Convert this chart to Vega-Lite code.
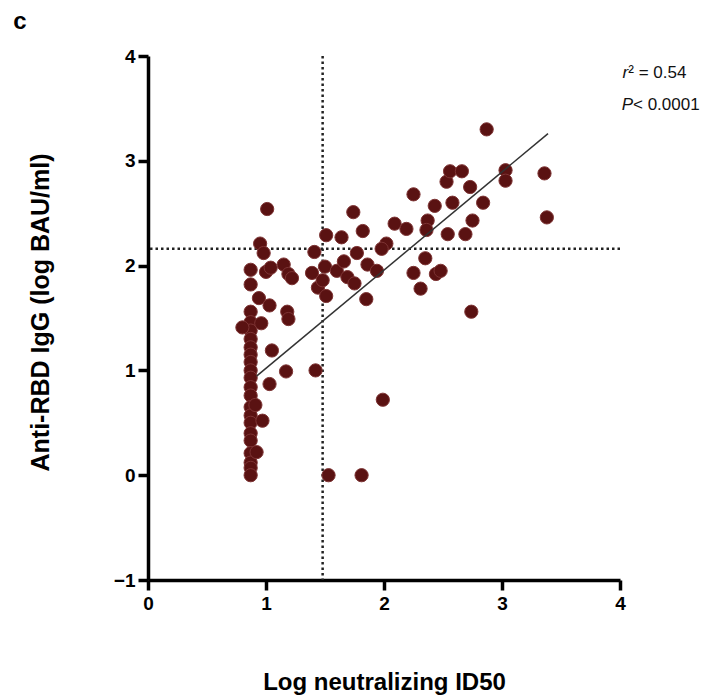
{
  "$schema": "https://vega.github.io/schema/vega-lite/v6.json",
  "width": 472,
  "height": 524,
  "autosize": {"type": "none"},
  "padding": {"left": 148, "top": 56, "right": 91, "bottom": 119},
  "background": "white",
  "config": {"view": {"stroke": null}},
  "data": {"values": [{}]},
  "datasets": {
    "pts": [
      {"id50": 0.87, "igg": 1.96}, {"id50": 0.87, "igg": 1.82}, {"id50": 0.87, "igg": 1.56}, {"id50": 0.87, "igg": 1.46},
      {"id50": 0.87, "igg": 1.38}, {"id50": 0.87, "igg": 1.30}, {"id50": 0.87, "igg": 1.22}, {"id50": 0.87, "igg": 1.15},
      {"id50": 0.87, "igg": 1.08}, {"id50": 0.87, "igg": 1.00}, {"id50": 0.87, "igg": 0.93}, {"id50": 0.87, "igg": 0.84},
      {"id50": 0.87, "igg": 0.76}, {"id50": 0.87, "igg": 0.65}, {"id50": 0.87, "igg": 0.57}, {"id50": 0.87, "igg": 0.50},
      {"id50": 0.87, "igg": 0.40}, {"id50": 0.87, "igg": 0.33}, {"id50": 0.87, "igg": 0.21}, {"id50": 0.87, "igg": 0.12},
      {"id50": 0.87, "igg": 0.07}, {"id50": 0.87, "igg": 0.0},
      {"id50": 0.80, "igg": 1.41}, {"id50": 0.96, "igg": 1.45}, {"id50": 0.91, "igg": 0.67}, {"id50": 0.97, "igg": 0.52},
      {"id50": 0.92, "igg": 0.22}, {"id50": 0.94, "igg": 1.69}, {"id50": 1.03, "igg": 1.62}, {"id50": 1.18, "igg": 1.56},
      {"id50": 1.19, "igg": 1.49}, {"id50": 1.05, "igg": 1.19}, {"id50": 1.17, "igg": 0.99}, {"id50": 1.42, "igg": 1.00},
      {"id50": 1.03, "igg": 0.87}, {"id50": 1.01, "igg": 2.54}, {"id50": 0.95, "igg": 2.21}, {"id50": 0.98, "igg": 2.12},
      {"id50": 1.00, "igg": 1.94}, {"id50": 1.04, "igg": 1.98}, {"id50": 1.15, "igg": 2.01}, {"id50": 1.19, "igg": 1.92},
      {"id50": 1.22, "igg": 1.88}, {"id50": 1.39, "igg": 1.93}, {"id50": 1.41, "igg": 2.13}, {"id50": 1.51, "igg": 2.29},
      {"id50": 1.64, "igg": 2.27}, {"id50": 1.50, "igg": 1.99}, {"id50": 1.60, "igg": 1.95}, {"id50": 1.44, "igg": 1.79},
      {"id50": 1.48, "igg": 1.86}, {"id50": 1.51, "igg": 1.71}, {"id50": 1.66, "igg": 2.04}, {"id50": 1.69, "igg": 1.89},
      {"id50": 1.75, "igg": 1.83}, {"id50": 1.77, "igg": 2.12}, {"id50": 1.74, "igg": 2.51}, {"id50": 1.82, "igg": 2.33},
      {"id50": 1.85, "igg": 1.68}, {"id50": 1.86, "igg": 2.01}, {"id50": 1.94, "igg": 1.95}, {"id50": 2.02, "igg": 2.21},
      {"id50": 1.98, "igg": 2.16}, {"id50": 2.09, "igg": 2.40}, {"id50": 2.19, "igg": 2.35}, {"id50": 2.25, "igg": 2.68},
      {"id50": 2.25, "igg": 1.93}, {"id50": 2.31, "igg": 1.78}, {"id50": 2.35, "igg": 2.07}, {"id50": 2.37, "igg": 2.43},
      {"id50": 2.36, "igg": 2.34}, {"id50": 2.43, "igg": 2.57}, {"id50": 2.44, "igg": 1.92}, {"id50": 2.48, "igg": 1.95},
      {"id50": 2.53, "igg": 2.80}, {"id50": 2.56, "igg": 2.90}, {"id50": 2.66, "igg": 2.90}, {"id50": 2.54, "igg": 2.30},
      {"id50": 2.69, "igg": 2.30}, {"id50": 2.58, "igg": 2.60}, {"id50": 2.73, "igg": 2.75}, {"id50": 2.75, "igg": 2.43},
      {"id50": 2.84, "igg": 2.60}, {"id50": 2.87, "igg": 3.30}, {"id50": 3.03, "igg": 2.91}, {"id50": 3.03, "igg": 2.81},
      {"id50": 3.36, "igg": 2.88}, {"id50": 3.38, "igg": 2.46}, {"id50": 2.74, "igg": 1.56}, {"id50": 1.99, "igg": 0.72},
      {"id50": 1.53, "igg": 0.0}, {"id50": 1.81, "igg": 0.0}
    ],
    "fit": [{"id50": 0.92, "igg": 0.945}, {"id50": 3.39, "igg": 3.26}]
  },
  "layer": [
    {
      "mark": {"type": "rule", "strokeDash": [2.5, 3], "strokeWidth": 2.5, "color": "#222"},
      "encoding": {"y": {"datum": 2.16, "type": "quantitative"}}
    },
    {
      "mark": {"type": "rule", "strokeDash": [2.5, 3], "strokeWidth": 2.5, "color": "#222"},
      "encoding": {"x": {"datum": 1.48, "type": "quantitative"}}
    },
    {
      "data": {"name": "pts"},
      "mark": {"type": "circle", "size": 175, "color": "#5a1212", "opacity": 1, "stroke": "#7d3434", "strokeWidth": 1},
      "encoding": {
        "x": {
          "field": "id50", "type": "quantitative",
          "scale": {"domain": [0, 4], "nice": false, "zero": false},
          "axis": {
            "title": "Log neutralizing ID50", "values": [0, 1, 2, 3, 4], "format": "d",
            "domainColor": "#000", "domainWidth": 3.5, "tickColor": "#000", "tickWidth": 3.5, "tickSize": 10,
            "labelFont": "Liberation Sans", "labelFontSize": 19, "labelFontWeight": "bold", "labelColor": "#000", "labelPadding": 4,
            "titleFont": "Liberation Sans", "titleFontSize": 24, "titleFontWeight": "bold", "titleColor": "#000",
            "titleY": 102, "titleBaseline": "middle", "grid": false, "labelFlush": false
          }
        },
        "y": {
          "field": "igg", "type": "quantitative",
          "scale": {"domain": [-1, 4], "nice": false, "zero": false},
          "axis": {
            "title": "Anti-RBD IgG (log BAU/ml)", "values": [-1, 0, 1, 2, 3, 4], "format": "d",
            "domainColor": "#000", "domainWidth": 3.5, "tickColor": "#000", "tickWidth": 3.5, "tickSize": 10,
            "labelFont": "Liberation Sans", "labelFontSize": 19, "labelFontWeight": "bold", "labelColor": "#000", "labelPadding": 3,
            "titleFont": "Liberation Sans", "titleFontSize": 25, "titleFontWeight": "bold", "titleColor": "#000",
            "titleX": -108, "titleY": 256, "titleBaseline": "middle", "titleAlign": "center", "grid": false, "labelFlush": false
          }
        }
      }
    },
    {
      "data": {"name": "fit"},
      "mark": {"type": "line", "color": "#333", "strokeWidth": 1.5},
      "encoding": {
        "x": {"field": "id50", "type": "quantitative"},
        "y": {"field": "igg", "type": "quantitative"}
      }
    },
    {
      "mark": {"type": "text", "text": "r", "fontStyle": "italic", "align": "right", "baseline": "middle", "fontSize": 17, "font": "Liberation Sans", "color": "#111"},
      "encoding": {"x": {"datum": 4.07, "type": "quantitative"}, "y": {"datum": 3.84, "type": "quantitative"}}
    },
    {
      "mark": {"type": "text", "text": "² = 0.54", "align": "left", "baseline": "middle", "fontSize": 17, "font": "Liberation Sans", "color": "#111"},
      "encoding": {"x": {"datum": 4.07, "type": "quantitative"}, "y": {"datum": 3.84, "type": "quantitative"}}
    },
    {
      "mark": {"type": "text", "text": "P", "fontStyle": "italic", "align": "right", "baseline": "middle", "fontSize": 17, "font": "Liberation Sans", "color": "#111"},
      "encoding": {"x": {"datum": 4.11, "type": "quantitative"}, "y": {"datum": 3.53, "type": "quantitative"}}
    },
    {
      "mark": {"type": "text", "text": "< 0.0001", "align": "left", "baseline": "middle", "fontSize": 17, "font": "Liberation Sans", "color": "#111"},
      "encoding": {"x": {"datum": 4.11, "type": "quantitative"}, "y": {"datum": 3.53, "type": "quantitative"}}
    },
    {
      "mark": {"type": "text", "text": "c", "align": "center", "baseline": "middle", "fontSize": 24, "fontWeight": "bold", "font": "Liberation Sans", "color": "#000"},
      "encoding": {"x": {"datum": -1.085, "type": "quantitative"}, "y": {"datum": 4.32, "type": "quantitative"}}
    }
  ]
}
